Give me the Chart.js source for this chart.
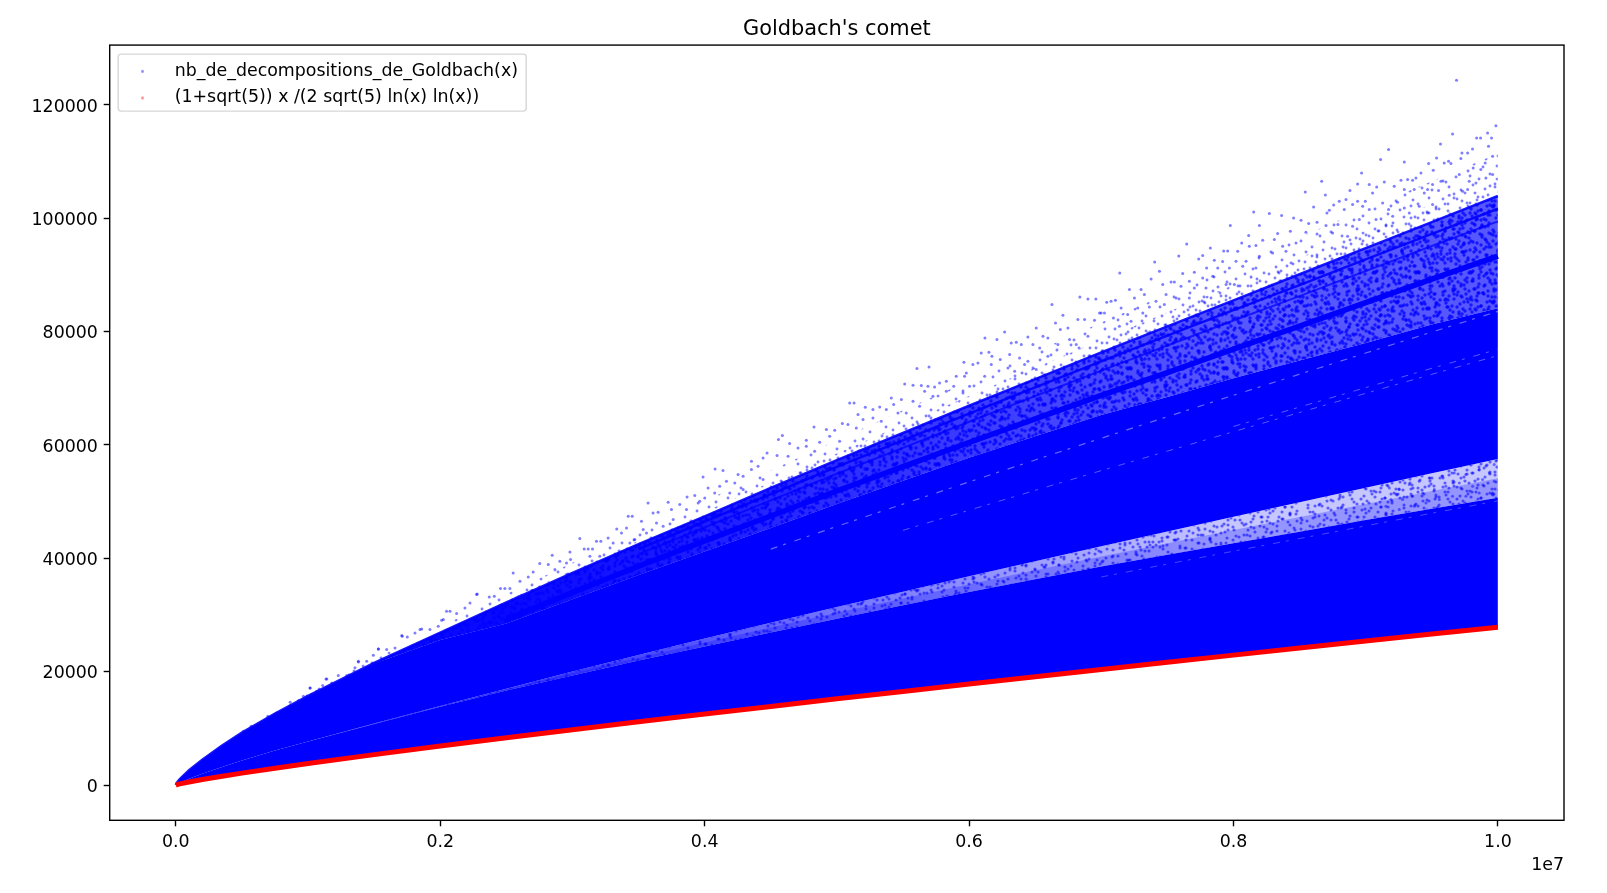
<!DOCTYPE html>
<html>
<head>
<meta charset="utf-8">
<title>Goldbach's comet</title>
<script src="https://cdn.jsdelivr.net/npm/chart.js@4/dist/chart.umd.min.js"></script>
<style>
  html, body { margin: 0; padding: 0; background: #fff; }
  canvas { display: block; }
</style>
</head>
<body>
<canvas id="comet" width="1607" height="893"></canvas>
<script>
// --- DATA (x is in units of 1e7) ---
const xTicks = [0, 0.2, 0.4, 0.6, 0.8, 1];
const yTicks = [0, 20000, 40000, 60000, 80000, 100000, 120000];

const cometX = [0, .001, .003, .01, .02, .035, .05, .075, .1, .15, .2, .25, .3, .35, .4, .45, .5, .55, .6, .65, .7, .75, .8, .85, .9, .95, 1];

// red curve, also the bottom edge of the comet
const lowerCurve = [0, 85, 204, 546, 971, 1554, 2101, 2965, 3791, 5368, 6875, 8336, 9760, 11155, 12524, 13873, 15207, 16520, 17824, 19112, 20391, 21656, 22917, 24158, 25399, 26634, 27850];
// edges of the speckled gap that runs through the middle
const gapBottom = [0, 175, 420, 1130, 2000, 3200, 4330, 6100, 7700, 10790, 13820, 16670, 19320, 21975, 24420, 26910, 29350, 31720, 34040, 36310, 38540, 40600, 42630, 44690, 46730, 48740, 50690];
const gapMiddle = [0, 175, 420, 1130, 2000, 3200, 4330, 6100, 7700, 10815, 13890, 16835, 19665, 22450, 25140, 27780, 30375, 32915, 35425, 37890, 40325, 42660, 44975, 47290, 49590, 51870, 54100];
const gapTop = [0, 175, 420, 1130, 2000, 3200, 4330, 6100, 7700, 10840, 13960, 17000, 20010, 22920, 25860, 28650, 31400, 34110, 36810, 39470, 42110, 44720, 47320, 49890, 52450, 55000, 57510];
// solid blue stops here, the speckled upper part begins
const upperBottom = [0, 470, 1060, 2620, 4470, 6990, 9240, 12600, 15650, 21450, 25570, 28510, 32790, 37030, 41200, 45360, 49570, 53690, 57750, 61540, 65250, 68430, 71730, 74890, 77970, 81230, 84110];
// upper streak of the comet
const upperEdge = [0, 470, 1060, 2620, 4470, 6990, 9240, 12600, 15730, 21530, 26900, 32200, 37400, 42500, 47400, 52400, 57300, 62100, 66900, 71600, 76300, 80900, 85500, 90100, 94700, 99300, 103900];
// cloud of dots above the upper streak, thick just above it
const cloudMiddle = [0, 470, 1060, 2620, 4470, 6990, 9240, 12600, 15950, 21750, 27100, 32500, 37900, 43100, 48200, 53400, 58500, 63600, 68600, 73600, 78500, 83400, 88200, 93000, 97800, 102500, 107200];
const cloudTop = [0, 470, 1060, 2620, 4470, 6990, 9240, 12600, 16200, 22300, 27900, 33700, 39200, 44600, 50100, 55500, 60800, 66100, 71300, 76400, 81600, 86600, 91700, 96600, 101600, 106500, 111400];

// dark streaks in the speckled part
const streakWideX = [.25, .3, .35, .4, .45, .5, .55, .6, .65, .7, .75, .8, .85, .9, .95, 1];
const streakWide = [29180, 33960, 38600, 43080, 47450, 51860, 56170, 60420, 64600, 68720, 72760, 76890, 80930, 85090, 89220, 93300];
const streakThinX = [.35, .4, .45, .5, .55, .6, .65, .7, .75, .8, .85, .9, .95, 1];
const streakThinA = [41610, 46460, 51330, 56110, 60790, 65500, 70140, 74730, 79260, 83760, 88180, 92710, 97210, 101650];
const streakThinB = [40720, 45460, 50220, 54900, 59470, 64080, 68610, 73100, 77530, 81930, 86240, 90670, 95080, 99420];

// pale hairlines inside the solid blue
const paleAX = [.7, .75, .8, .85, .9, .95, 1];
const paleA = [36700, 38980, 41250, 43480, 45720, 47940, 50130];
const paleBX = [.55, .6, .65, .7, .75, .8, .85, .9, .95, 1];
const paleB = [44930, 48480, 51980, 55460, 58900, 62330, 65710, 69090, 72440, 75750];
const paleCX = [.8, .85, .9, .95, 1];
const paleC = [63250, 66680, 70100, 73510, 76870];
const paleDX = [.45, .5, .55, .6, .65, .7, .75, .8, .85, .9, .95, 1];
const paleD = [41620, 45620, 49560, 53470, 57340, 61170, 64970, 68750, 72470, 76200, 79900, 83550];

// single dots above the comet, and in the gap
const dotsX = [
  .9687, .9985, .9657, .9922, .9839, .9869, .9952, .9566, .9173, .9929, .9808, .9771, .9728, .9536, .9113, .9292, .9720, .9960, .9627, .9594,
  .9476, .9904, .9511, .8969, .9645, .9418, .9871, .9813, .9708, .8667, .8939, .9141, .9267, .9317, .9355, .9027, .9216, .9607, .9569, .9380,
  .9960, .9909, .9783, .9834, .8543, .8695, .8881, .9052, .9083, .9292, .9367, .9468, .9506, .9551, .9632, .9443, .8800, .8851, .8939, .8997,
  .9128, .9241, .8606, .8901, .8758, .8153, .8271, .8364, .8707, .8725, .8838, .8977, .9027, .9173, .9292, .9405, .9506, .9733, .9771, .7976,
  .8196, .8455, .8511, .8569, .8632, .8700, .8790, .8901, .8952, .9078, .9204, .9330, .9468, .8115, .8334, .8430, .8548, .8632, .8750, .8863,
  .7646, .7825, .8062, .7926, .7956, .8032, .8120, .8170, .8221, .8309, .8372, .8473, .7586, .7737, .7767, .7855, .7918, .8019, .8095, .8196,
  .8296, .8397, .7404, .7440, .7140, .7616, .7704, .7797, .7881, .7969, .8070, .8170, .7377, .7528, .7465, .7553, .7666, .7767, .7843, .7944,
  .8007, .7213, .7301, .7490, .7603, .7704, .7792, .7041, .7074, .7107, .7251, .7326, .7414, .7566, .7666, .7150, .7276, .7364, .7477, .6999,
  .7024, .7200, .7314, .7092, .7225, .7137,
  .6627, .6838, .6899, .6959, .6710, .6654, .6508, .6269, .6120, .6211, .6445, .6559, .6596, .6690, .6748, .6823, .6874, .6949, .6987, .6319,
  .6357, .6395, .6483, .6534, .6672, .6760, .6811, .6899, .6092, .6150, .6173, .6307, .6382, .6596, .5961, .6029, .6067, .6236, .6445, .5606,
  .5697, .5903, .5979, .6168, .6294, .6345, .6420, .6508, .5828, .5966, .6118, .5777, .5884, .6004, .5513, .5576, .5639, .5689, .5739, .5727,
  .5828, .5954, .5412, .5488, .5576, .5664, .5097, .5130, .5215, .5324, .5273, .5374, .5430, .5525, .5462, .5626, .5160, .5336, .5273, .4827,
  .4921, .4984, .5042, .5084, .5147, .5198, .4588, .4558, .4643, .4769, .4870, .4946, .5021, .4354, .4472, .4548, .4442, .4706, .4769, .4631,
  .4832, .4079, .4139, .3988, .4404, .4253, .4291, .4354, .4026, .4114, .4165, .4228, .4442, .4076, .3963, .4001, .4190, .4291,
  .2280, .2371, .2456, .2489, .2527, .2552, .2409, .2603, .2703, .2666, .2753, .2817, .2847, .2905, .2981, .2955, .2986, .2867, .3056, .3089,
  .3119, .3152, .3182, .3215, .3270, .3335, .3422, .3452, .3522, .3572, .3610, .3648, .3724, .3371, .3409, .3535, .3472, .3308, .3749, .3812,
  .3867, .3925, .3762, .3863, .3951, .3132, .3207, .3636, .3686, .3560, .3434,
  .1015, .1136, .1111, .1229, .1355, .1381, .1444, .1494, .1532, .1595, .1658, .1713, .1751, .1809, .1847, .1293, .1179, .0965, .1065,
  .1922, .1985, .2048, .2074, .2011, .2124, .2187, .2225, .2275,
  .0512, .0570, .0696, .0764, .0865, .1016, .1142, .1381, .1532, .1709, .1860, .2024,
  .9972, .9935, .9859, .9758, .9670, .9582, .9481, .9405, .9330, .9254, .9179, .9972, .9884, .9809, .9708, .9607, .9519, .9431, .9355, .9279,
  .9191, .9960, .9859, .9758, .9657, .9557, .9456, .9368, .9254, .9153
];
const dotsY = [
  124300, 116300, 114840, 115020, 114140, 114140, 114140, 113080, 112080, 112670, 112200, 111490, 111490, 110610, 110320, 109900, 110490, 110900, 110020, 109730,
  109610, 109730, 108430, 107970, 109610, 107970, 108550, 108850, 107670, 106500, 106030, 106380, 106670, 106790, 106670, 105910, 105620, 106380, 106500, 107080,
  107670, 107080, 106500, 106200, 104610, 104090, 104850, 104440, 105500, 105030, 105030, 105030, 105910, 104850, 104030, 104440, 102970, 103260, 102970, 102970,
  102670, 102790, 101970, 102380, 102320, 101090, 100790, 100440, 100910, 101380, 101500, 102090, 101500, 101500, 101790, 102090, 102380, 104730, 105030, 98680,
  98680, 100030, 99620, 99030, 99260, 98680, 98850, 98560, 99730, 99730, 100320, 100910, 100910, 96910, 97270, 97680, 97500, 97210, 97380, 96800,
  95440, 94740, 95620, 94210, 94210, 94150, 95030, 95150, 96090, 96210, 95030, 95620, 93330, 92800, 93390, 92560, 92330, 92390, 92390, 93270,
  93850, 94150, 92270, 90620, 90330, 90210, 90450, 91210, 91210, 91210, 91500, 91210, 89270, 88740, 88270, 88740, 88860, 89450, 89740, 88270,
  88270, 87390, 87390, 86510, 87980, 87680, 87680, 85150, 85330, 85510, 85920, 86510, 85330, 85920, 85920, 84150, 84150, 84330, 84740, 83270,
  83270, 82980, 83270, 82390, 81810, 80920,
  84740, 86100, 85740, 85740, 82860, 81510, 80630, 79920, 78860, 78570, 79040, 79160, 78860, 80330, 80630, 82100, 82100, 81980, 83270, 77980,
  78100, 77690, 77690, 77100, 77690, 78570, 77690, 79160, 76220, 76340, 75630, 75930, 75340, 75630, 74570, 74160, 74460, 75040, 74750, 73460,
  73750, 72100, 72690, 74160, 73570, 72990, 74160, 73280, 71220, 72100, 72100, 70930, 70340, 70340, 70750, 70520, 70460, 70340, 70220, 68580,
  69460, 69160, 68280, 67990, 67690, 69460, 67400, 67400, 66640, 66700, 66230, 66230, 67100, 65640, 65640, 66810, 65340, 64170, 64750, 63170,
  62700, 62580, 63750, 63580, 62990, 64460, 61640, 60930, 60230, 60820, 60460, 61520, 60640, 57110, 58580, 58110, 57700, 59460, 59760, 57990,
  58880, 55760, 55470, 54350, 56230, 54760, 54470, 55640, 52410, 52700, 53590, 53290, 53880, 51530, 50060, 50640, 51530, 52110,
  33710, 33180, 34650, 34650, 34650, 37420, 33300, 35950, 37590, 36710, 39060, 38890, 40530, 39470, 41120, 39180, 39770, 38000, 43470, 41650,
  41650, 41650, 43000, 43000, 43590, 45180, 47410, 47410, 46530, 49760, 48000, 48120, 49880, 44470, 45350, 45060, 43290, 42710, 48590, 49470,
  50820, 51060, 46820, 48590, 49760, 40360, 40360, 46230, 45650, 44470, 42710,
  17140, 18720, 17550, 19310, 20670, 21720, 21840, 22900, 24020, 23900, 24190, 26250, 26130, 26840, 27430, 19310, 17990, 15670, 16550,
  27430, 28010, 30660, 30660, 29070, 30250, 31250, 32130, 33600,
  9490, 10370, 12140, 12730, 14610, 17140, 18720, 21840, 24010, 26370, 27540, 29190,
  56520, 55050, 55640, 54760, 55050, 54470, 54170, 53580, 52990, 52120, 52410, 53580, 53880, 52700, 53290, 52700, 52120, 51530, 50940, 50350,
  50350, 51530, 51530, 50940, 50940, 50350, 49760, 49180, 48590, 49180
];

const seriesNames = ["nb_de_decompositions_de_Goldbach(x)", "(1+sqrt(5)) x /(2 sqrt(5) ln(x) ln(x))"];

// --- HELPERS ---
const BLUE = 'rgb(0,0,255)';
const pairs = (xs, ys) => xs.map((x, i) => ({ x, y: ys[i] }));

// fill texture for the crowded parts of the scatter, one 96px tile
const TILE = 96;
const tileSpots = [
  [3,7],[14,2],[27,11],[38,5],[52,9],[61,3],[74,12],[85,6],[92,15],[8,19],[19,24],[31,17],[44,22],[56,18],[67,26],[79,21],[90,28],
  [2,33],[13,37],[25,31],[35,39],[48,34],[59,41],[71,36],[83,40],[94,44],[6,48],[18,52],[29,46],[41,53],[53,49],[64,55],[76,50],[87,57],
  [1,62],[11,66],[23,60],[34,68],[46,63],[57,70],[69,65],[80,72],[91,67],[5,77],[16,81],[28,75],[39,83],[50,78],[62,85],[73,80],[84,87],[93,82],
  [9,91],[21,94],[33,89],[45,93],[55,88],[66,95],[78,92],[88,94],[22,9],[47,14],[69,8],[10,28],[37,27],[62,32],[86,33],[22,43],[72,44],
  [43,71],[15,57],[95,55],[58,60],[30,80],[82,64],[67,14],[49,41],[3,85],[75,90]
];

function makeTile(base, shifts, radius, alpha) {
  const c = document.createElement('canvas');
  c.width = TILE; c.height = TILE;
  const g = c.getContext('2d');
  if (base) { g.fillStyle = `rgba(0,0,255,${base})`; g.fillRect(0, 0, TILE, TILE); }
  g.fillStyle = `rgba(0,0,255,${alpha})`;
  shifts.forEach(([sx, sy]) => tileSpots.forEach(([x, y]) => {
    [-TILE, 0, TILE].forEach(dx => [-TILE, 0, TILE].forEach(dy => {
      g.beginPath();
      g.arc((x + sx) % TILE + dx, (y + sy) % TILE + dy, radius, 0, Math.PI * 2);
      g.fill();
    }));
  }));
  return g.createPattern(c, 'repeat');
}

const SHIFTS = [[0, 0], [37, 53], [71, 19], [19, 71], [53, 37], [83, 83]];
const gapTexture = makeTile(0.22, SHIFTS.slice(0, 4), 1.55, 0.55);
const upperTexture = makeTile(0.64, SHIFTS, 1.7, 0.75);
const cloudTexture = makeTile(0, SHIFTS.slice(0, 1), 1.45, 0.5);
const cloudThickTexture = makeTile(0, SHIFTS.slice(1, 3), 1.45, 0.5);

// left part of the speckled bands is crowded, so more blue is laid over it
function closeHoles(x0, x1, a0, a1) {
  return ctx => {
    const chart = ctx.chart;
    if (!chart.chartArea) return `rgba(0,0,255,${a1})`;
    const xs = chart.scales.x;
    const g = chart.ctx.createLinearGradient(xs.getPixelForValue(x0), 0, xs.getPixelForValue(x1), 0);
    g.addColorStop(0, `rgba(0,0,255,${a0})`);
    g.addColorStop(1, `rgba(0,0,255,${a1})`);
    return g;
  };
}

function band(ys, target, color) {
  return {
    data: pairs(cometX, ys), showLine: true, pointRadius: 0,
    borderWidth: 0, borderColor: 'transparent',
    backgroundColor: color, fill: { target }, order: 5
  };
}

function streak(xs, ys, color, width, order, dash) {
  return {
    data: pairs(xs, ys), showLine: true, pointRadius: 0,
    borderColor: color, borderWidth: width, fill: false, order,
    borderDash: dash || []
  };
}

// tiny dot for the legend, the legend key is wide but the marker is small
function legendDot(color) {
  const c = document.createElement('canvas');
  c.width = 5; c.height = 5;
  const g = c.getContext('2d');
  g.fillStyle = color;
  g.beginPath();
  g.arc(2.5, 2.5, 1.5, 0, Math.PI * 2);
  g.fill();
  return c;
}

// --- PLUGIN: white page, legend frame, axes box ---
const frame = {
  id: 'frame',
  afterLayout(chart) {
    chart.legend.top = chart.chartArea.top + 8.3;
  },
  beforeDraw(chart) {
    const { ctx, width, height, chartArea: a } = chart;
    ctx.save();
    ctx.fillStyle = '#fff';
    ctx.fillRect(0, 0, width, height);
    ctx.beginPath();
    ctx.roundRect(a.left + 8.5, a.top + 9, 408, 57, 3);
    ctx.strokeStyle = 'rgba(204,204,204,0.8)';
    ctx.lineWidth = 1.39;
    ctx.stroke();
    ctx.restore();
  },
  afterDraw(chart) {
    const { ctx, chartArea: a } = chart;
    ctx.save();
    ctx.strokeStyle = '#000';
    ctx.lineWidth = 1.39;
    ctx.strokeRect(a.left, a.top, a.right - a.left, a.bottom - a.top);
    ctx.restore();
  }
};

Chart.defaults.font.family = '"DejaVu Sans"';
Chart.defaults.font.size = 17.4;
Chart.defaults.color = '#000';

const PALE_DASH = [7, 6, 3, 9];
const datasets = [
  // 0 and 1 are the two series of the legend
  { label: seriesNames[0], data: pairs(dotsX, dotsY), pointRadius: 1.5, pointBorderWidth: 0, backgroundColor: 'rgba(0,0,255,0.5)', showLine: false, order: 1 },
  { label: seriesNames[1], data: pairs(cometX, lowerCurve), showLine: true, pointRadius: 0, borderColor: 'rgb(255,0,0)', borderWidth: 5, fill: false, order: 0 },
  // filled bands from the bottom up
  band(gapBottom, 1, BLUE),                                // 2
  band(gapTop, 2, gapTexture),                             // 3
  band(gapMiddle, 2, 'rgba(0,0,255,0.25)'),                // 4
  band(gapTop, 2, closeHoles(0.3, 0.8, 0.7, 0)),           // 5
  band(upperBottom, 3, BLUE),                              // 6
  band(upperEdge, 6, upperTexture),                        // 7
  band(upperEdge, 6, closeHoles(0.25, 0.8, 0.9, 0.05)),    // 8
  band(cloudTop, 7, cloudTexture),                         // 9
  band(cloudMiddle, 7, cloudThickTexture),                 // 10
  streak(cometX, upperEdge, 'rgba(0,0,255,0.9)', 2.5, 2),
  streak(streakWideX, streakWide, BLUE, 5.5, 2),
  streak(streakThinX, streakThinA, 'rgba(0,0,255,0.9)', 2.5, 2),
  streak(streakThinX, streakThinB, 'rgba(0,0,255,0.75)', 2, 2),
  streak(paleAX, paleA, 'rgba(255,255,255,0.28)', 1, 3, PALE_DASH),
  streak(paleBX, paleB, 'rgba(255,255,255,0.35)', 1, 3, PALE_DASH),
  streak(paleCX, paleC, 'rgba(255,255,255,0.35)', 1, 3, PALE_DASH),
  streak(paleDX, paleD, 'rgba(255,255,255,0.4)', 1.2, 3, PALE_DASH)
];

new Chart(document.getElementById('comet'), {
  type: 'scatter',
  data: { datasets },
  plugins: [frame],
  options: {
    responsive: false,
    animation: false,
    events: [],
    layout: { padding: { left: 0, right: 43, top: 0, bottom: 0 } },
    scales: {
      x: {
        type: 'linear', min: -0.05, max: 1.05,
        afterFit: s => { s.height = 72.7; },
        afterBuildTicks: s => { s.ticks = xTicks.map(value => ({ value })); },
        grid: { drawOnChartArea: false, drawTicks: true, tickLength: 6, tickWidth: 1.39, tickColor: '#000' },
        border: { display: false },
        ticks: { maxRotation: 0, autoSkip: false, padding: 5.8, callback: v => Number(v).toFixed(1) },
        title: { display: true, text: '1e7', align: 'end', padding: { top: 0, bottom: 17.5 } }
      },
      y: {
        type: 'linear', min: -6215, max: 130515,
        afterFit: s => { s.width = 109.7; },
        afterBuildTicks: s => { s.ticks = yTicks.map(value => ({ value })); },
        grid: { drawOnChartArea: false, drawTicks: true, tickLength: 6, tickWidth: 1.39, tickColor: '#000' },
        border: { display: false },
        ticks: { autoSkip: false, padding: 5.8, labelOffset: 2.3, callback: v => String(v) }
      }
    },
    plugins: {
      tooltip: { enabled: false },
      title: {
        display: true, text: "Goldbach's comet", fullSize: false,
        font: { size: 20.9, weight: 'normal' }, padding: { top: 17, bottom: 3 }
      },
      legend: {
        display: true, position: 'chartArea', align: 'start',
        labels: {
          usePointStyle: true, pointStyleWidth: 47.1, boxHeight: 16, padding: 9.2,
          generateLabels: () => [
            { text: seriesNames[0], pointStyle: legendDot('rgba(0,0,255,0.45)'), lineWidth: 0, datasetIndex: 0 },
            { text: seriesNames[1], pointStyle: legendDot('rgba(255,0,0,0.45)'), lineWidth: 0, datasetIndex: 1 }
          ]
        }
      }
    }
  }
});
</script>
</body>
</html>
